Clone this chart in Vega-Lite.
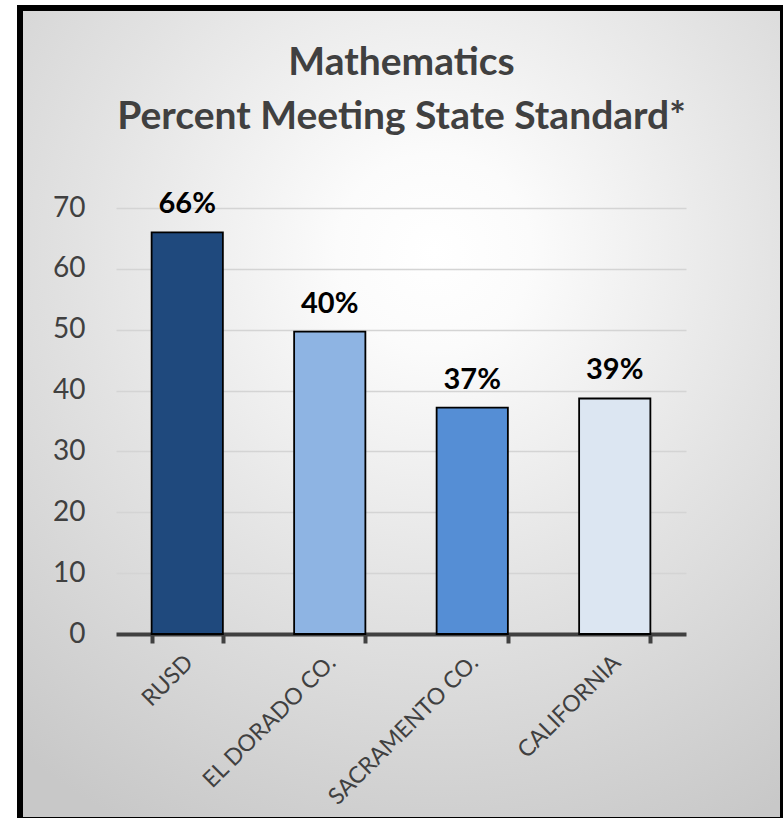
{
  "$schema": "https://vega.github.io/schema/vega-lite/v6.json",
  "autosize": {"type": "none"},
  "width": 763,
  "height": 812,
  "padding": {"left": 20, "top": 8, "right": 0, "bottom": 0},
  "background": "#ffffff",
  "title": {
    "text": ["Mathematics", "Percent Meeting State Standard*"],
    "font": "Lato",
    "fontSize": 39,
    "fontWeight": "bold",
    "color": "#404040",
    "lineHeight": 54,
    "baseline": "alphabetic",
    "anchor": "middle",
    "frame": "group",
    "offset": -160
  },
  "data": {
    "values": [
      {"region": "RUSD", "value": 66, "label": "66%"},
      {"region": "EL DORADO CO.", "value": 49.7, "label": "40%"},
      {"region": "SACRAMENTO CO.", "value": 37.2, "label": "37%"},
      {"region": "CALIFORNIA", "value": 38.7, "label": "39%"}
    ]
  },
  "encoding": {
    "x": {
      "field": "region",
      "type": "nominal",
      "sort": null,
      "title": null,
      "scale": {"range": [96, 666], "paddingInner": 0.5, "paddingOuter": 0.25},
      "axis": {
        "offset": -186,
        "labelAngle": -45,
        "labelFont": "Lato",
        "labelFontSize": 23,
        "labelColor": "#404040",
        "labelPadding": 8,
        "labelOffset": -6,
        "labelLimit": 0,
        "domainColor": "#404040",
        "domainWidth": 4,
        "tickColor": "#404040",
        "tickWidth": 4,
        "tickSize": 9,
        "tickBand": "extent",
        "grid": false
      }
    },
    "y": {
      "field": "value",
      "type": "quantitative",
      "title": null,
      "scale": {"domain": [0, 70], "nice": false, "range": [626, 200]},
      "axis": {
        "offset": -96,
        "values": [0, 10, 20, 30, 40, 50, 60, 70],
        "labelFont": "Lato",
        "labelFontSize": 28,
        "labelColor": "#404040",
        "labelPadding": 31,
        "domain": false,
        "ticks": false,
        "gridColor": "#d4d4d4",
        "gridWidth": 1.5
      }
    }
  },
  "layer": [
    {
      "mark": {"type": "bar", "stroke": "#000000", "strokeWidth": 1.8},
      "encoding": {
        "color": {
          "field": "region",
          "type": "nominal",
          "sort": null,
          "legend": null,
          "scale": {
            "domain": ["RUSD", "EL DORADO CO.", "SACRAMENTO CO.", "CALIFORNIA"],
            "range": ["#1f497d", "#8eb4e3", "#558ed5", "#dce6f2"]
          }
        }
      }
    },
    {
      "mark": {"type": "text", "font": "Lato", "fontSize": 29, "fontWeight": "bold", "color": "#000000", "baseline": "alphabetic", "dy": -19},
      "encoding": {"text": {"field": "label"}}
    }
  ],
  "config": {
    "view": {
      "stroke": "#000000",
      "strokeWidth": 6,
      "fill": {
        "gradient": "radial",
        "x1": 0.54, "y1": 0.3, "x2": 0.54, "y2": 0.3,
        "r1": 0, "r2": 0.8,
        "stops": [
          {"offset": 0, "color": "#ffffff"},
          {"offset": 0.15, "color": "#fbfbfb"},
          {"offset": 0.55, "color": "#e2e2e2"},
          {"offset": 1, "color": "#c8c8c8"}
        ]
      }
    }
  }
}
